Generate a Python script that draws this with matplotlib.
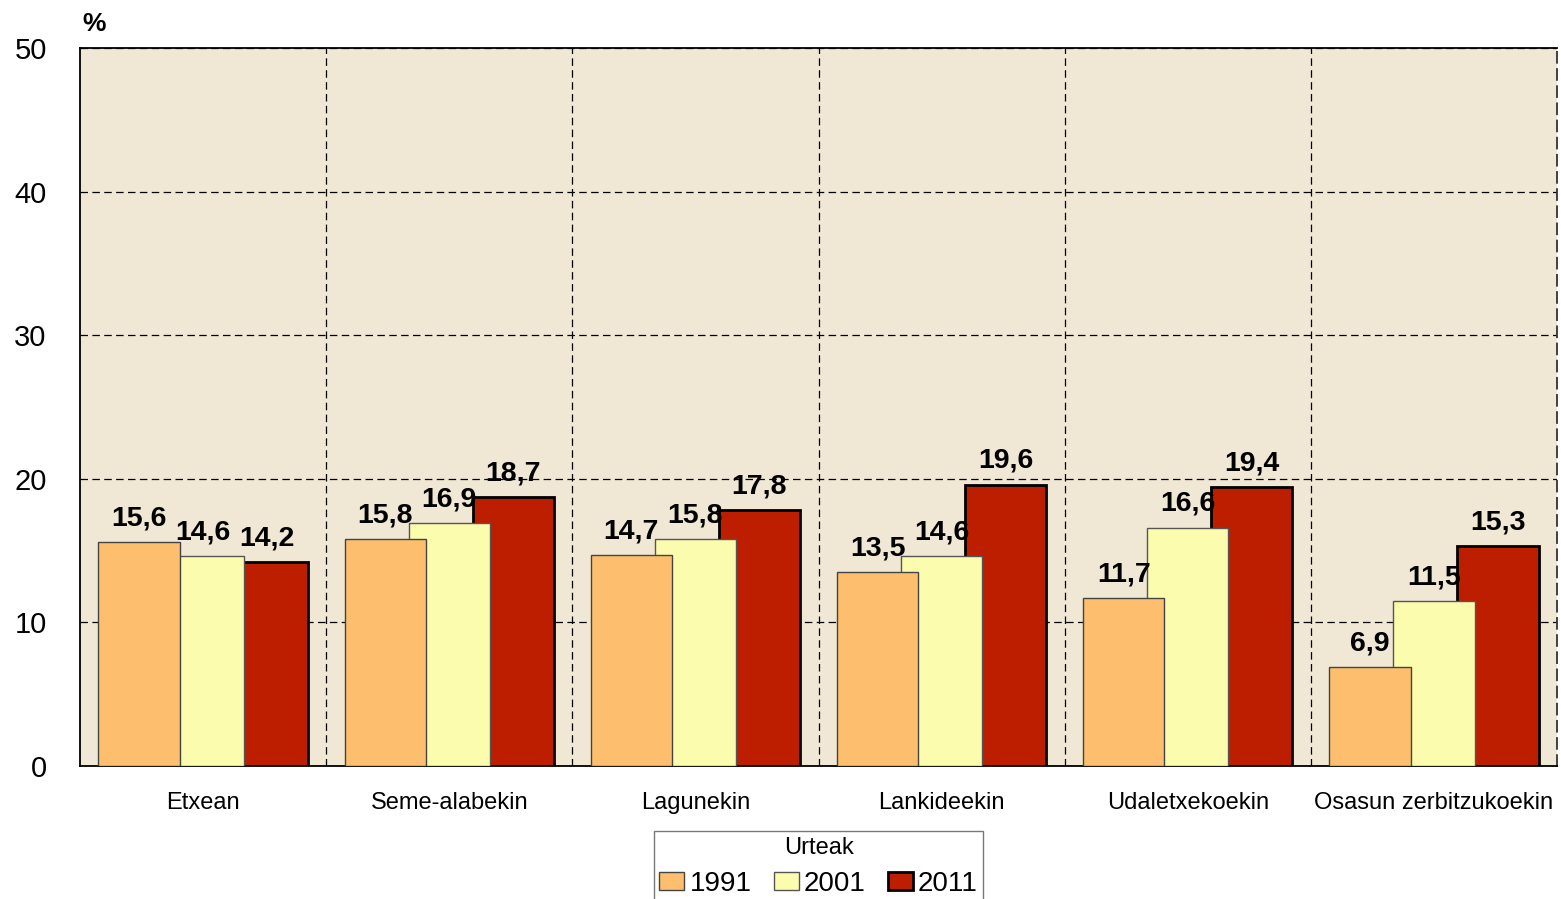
import numpy as np
import matplotlib.pyplot as plt
from matplotlib.ticker import FixedLocator

plt.rcParams['font.family'] = ['Liberation Sans', 'DejaVu Sans']

# --- data ---
categories = ["Etxean", "Seme-alabekin", "Lagunekin", "Lankideekin",
              "Udaletxekoekin", "Osasun zerbitzukoekin"]
years = ["1991", "2001", "2011"]
v1991 = [15.6, 15.8, 14.7, 13.5, 11.7, 6.9]
v2001 = [14.6, 16.9, 15.8, 14.6, 16.6, 11.5]
v2011 = [14.2, 18.7, 17.8, 19.6, 19.4, 15.3]
y_ticks = [0, 10, 20, 30, 40, 50]

series = [v1991, v2001, v2011]
colors = ["#FDBF6D", "#FCFCAF", "#BD1E00"]
edges = ["#444444", "#555555", "#000000"]
edge_w = [1.0, 1.0, 2.0]
zorders = [4, 3, 2]   # 1991 drawn on top, 2011 at the back

W, H = 1561, 899
fig = plt.figure(figsize=(W / 100, H / 100), dpi=100)
ax = fig.add_axes([80 / W, 1 - 766 / H, (1557 - 80) / W, (766 - 48) / H])
ax.set_facecolor("#F0E7D4")

x = np.arange(len(categories))
bar_w = 0.33
step = 0.26
offsets = [-step, 0, step]

for vals, col, ec, lw, zo, off, yr in zip(series, colors, edges, edge_w, zorders, offsets, years):
    ax.bar(x + off, vals, width=bar_w, color=col, edgecolor=ec, linewidth=lw,
           zorder=zo, label=yr)

for vals, off in zip(series, offsets):
    for xi, v in zip(x, vals):
        ax.annotate(f"{v:.1f}".replace(".", ","), (xi + off, v),
                    xytext=(0, 12), textcoords="offset points",
                    ha="center", va="baseline", fontsize=20.5,
                    fontweight="bold", zorder=6)

ax.set_xlim(-0.5, len(categories) - 0.5)
ax.set_ylim(0, 50)
ax.set_yticks(y_ticks)
ax.set_xticks(x)
ax.set_xticklabels(categories, fontsize=17)
ax.xaxis.set_minor_locator(FixedLocator(np.arange(0.5, len(categories) - 0.5, 1)))
ax.tick_params(axis="x", which="both", length=0, pad=19)
ax.tick_params(axis="y", length=0, pad=24, labelsize=21)

dash = (0, (6, 3.5))
ax.grid(axis="y", which="major", color="black", linestyle=dash, linewidth=0.9, zorder=1)
ax.grid(axis="x", which="minor", color="black", linestyle=dash, linewidth=0.9, zorder=1)
ax.grid(axis="x", which="major", visible=False)
ax.set_axisbelow(True)

for s in ["left", "bottom", "top"]:
    ax.spines[s].set_color("black")
    ax.spines[s].set_linewidth(1.3)
ax.spines["right"].set_color("#333333")
ax.spines["right"].set_linestyle(dash)
ax.spines["right"].set_linewidth(1.3)

fig.text(82 / W, 1 - 31 / H, "%", fontsize=19, fontweight="bold", ha="left", va="baseline")

leg = ax.legend(loc="upper center", bbox_to_anchor=(818.5 / W, 1 - 831 / H),
                bbox_transform=fig.transFigure, borderaxespad=0, ncol=3, title="Urteak",
                fontsize=20, title_fontsize=17, frameon=True, fancybox=False,
                handlelength=0.9, handleheight=0.6, handletextpad=0.18,
                columnspacing=0.8, borderpad=0.2, labelspacing=0.2)
leg.get_frame().set_edgecolor("#555555")
leg.get_frame().set_linewidth(1.0)
leg._legend_box.sep = 9

fig.savefig("out.png", dpi=100)
